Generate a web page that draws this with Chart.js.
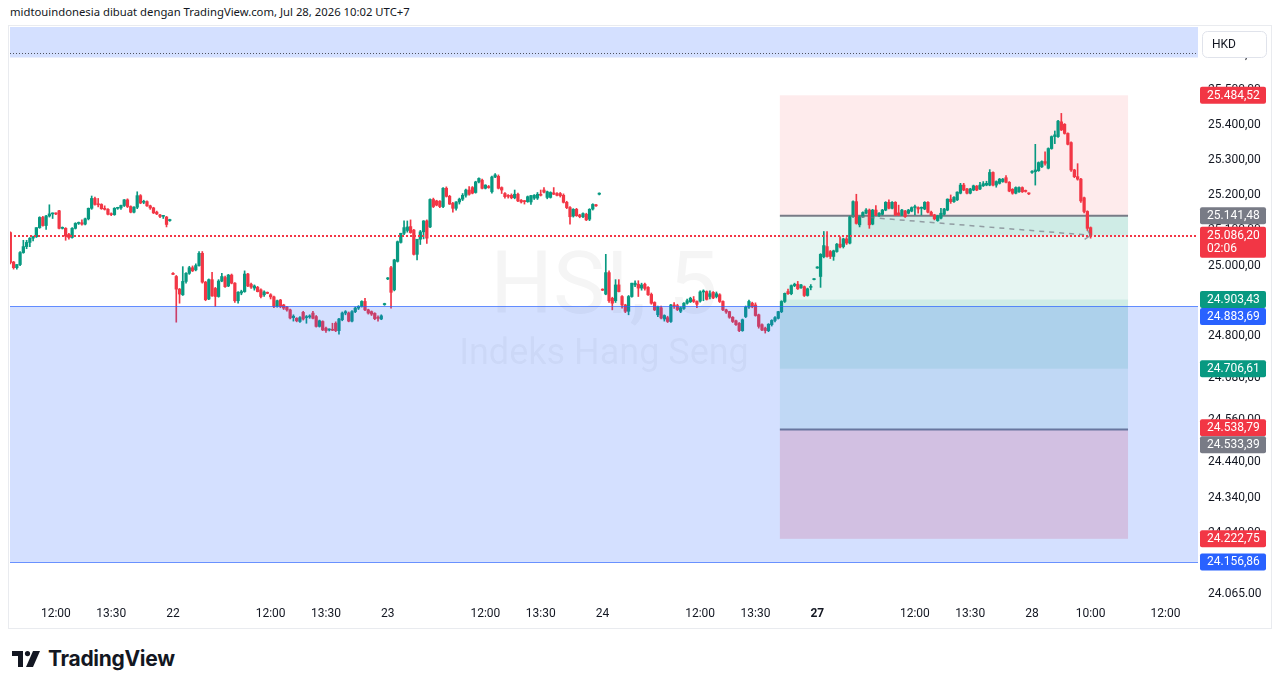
<!DOCTYPE html>
<html>
<head>
<meta charset="utf-8">
<script src="https://cdn.jsdelivr.net/npm/chart.js@4.4.1/dist/chart.umd.min.js"></script>
<style>
  body { margin: 0; background: #fff; width: 1281px; height: 688px; overflow: hidden; }
  #head { position: absolute; left: 10px; top: 4px; font: 11.3px "Noto Sans", sans-serif; color: #131722; white-space: nowrap; }
  #frame { position: absolute; left: 8px; top: 25px; width: 1262px; height: 602px; border: 1px solid #E9EBEF; }
  #wrap { position: absolute; left: 10px; top: 27px; width: 1260px; height: 600px; }
  #logo { position: absolute; left: 12px; top: 646px; display: flex; align-items: center; gap: 7px;
          font: 700 21px Inter, sans-serif; color: #131722; letter-spacing: -0.3px; }
</style>
</head>
<body>
<div id="head">midtouindonesia dibuat dengan TradingView.com, Jul 28, 2026 10:02 UTC+7</div>
<div id="frame"></div>
<div id="wrap"><canvas id="chart" width="1260" height="600"></canvas></div>
<div id="logo">
  <svg width="29" height="16" viewBox="0 0 29 16"><path d="M0 0h11v16h-5v-11h-6z" fill="#131722"/><circle cx="15.5" cy="2.6" r="2.6" fill="#131722"/><path d="M21 0h7l-7 16h-7z" fill="#131722"/></svg>
  <span>TradingView</span>
</div>
<script>
// 5-minute candles [open, high, low, close], one array per session
const firstIndex = 16;
const jul21 = [
  [25094,25096,25005,25009],[25010,25012,24990,24994],[24994,25003,24990,25003],[25003,25040,25000,25037],
  [25037,25072,25035,25054],[25054,25072,25048,25066],[25066,25080,25054,25078],[25078,25084,25070,25082],
  [25082,25108,25080,25108],[25108,25139,25106,25137],[25137,25140,25112,25114],[25114,25143,25103,25141],
  [25141,25173,25138,25147],[25147,25150,25134,25148],[25148,25150,25145,25147],[25156,25157,25104,25106],
  [25106,25110,25104,25108],[25106,25108,25072,25084],[25089,25092,25075,25080],[25080,25108,25078,25106],
  [25106,25122,25104,25120],[25120,25124,25117,25122],[25122,25130,25115,25118],[25118,25135,25116,25133],
  [25133,25164,25130,25163],[25163,25198,25160,25191],[25191,25195,25172,25174],[25175,25191,25167,25173],
  [25174,25176,25160,25162],[25162,25170,25158,25160],[25160,25162,25144,25146],[25146,25150,25142,25145],
  [25145,25165,25143,25163],[25163,25166,25160,25164],[25164,25172,25160,25171],[25171,25188,25168,25187],
  [25187,25190,25165,25168],[25168,25170,25150,25152],[25152,25168,25150,25166],[25166,25210,25162,25199],
  [25199,25202,25176,25178],[25180,25186,25176,25182],[25182,25184,25168,25170],[25170,25172,25160,25164],
  [25164,25166,25148,25150],[25152,25155,25145,25147],[25144,25146,25136,25140],[25140,25143,25134,25142],
  [25138,25140,25110,25117],[25128,25132,25126,25131]
];
const jul22 = [
  [24978,24980,24974,24975],[24969,24972,24839,24933],[24933,24935,24893,24919],[24917,24997,24915,24955],
  [24955,24980,24950,24978],[24978,24998,24975,24994],[24994,24999,24983,24985],[24988,25005,24985,25000],
  [25000,25040,24998,25035],[25035,25040,24950,24953],[24953,24955,24900,24903],[24905,24962,24903,24960],
  [24960,24981,24912,24914],[24935,24938,24884,24912],[24912,24960,24910,24956],[24956,24978,24954,24969],
  [24966,24970,24938,24940],[24942,24975,24940,24973],[24973,24976,24948,24950],[24950,24952,24895,24900],
  [24900,24926,24893,24924],[24922,24930,24917,24926],[24926,24985,24924,24976],[24976,24978,24940,24942],
  [24947,24950,24935,24939],[24936,24945,24930,24942],[24938,24941,24925,24926],[24931,24934,24908,24912],
  [24917,24928,24912,24925],[24923,24925,24920,24921],[24917,24920,24905,24911],[24911,24913,24880,24884],
  [24884,24902,24882,24900],[24902,24904,24880,24884],[24888,24890,24875,24879],[24882,24884,24870,24874],
  [24874,24876,24848,24851],[24852,24860,24842,24856],[24850,24852,24840,24843],[24841,24855,24838,24852],
  [24867,24870,24845,24848],[24852,24858,24836,24854],[24854,24860,24850,24856],[24865,24870,24848,24850],
  [24855,24858,24825,24827],[24827,24845,24825,24843],[24841,24843,24815,24817],[24822,24825,24810,24815],
  [24817,24820,24814,24818],[24818,24836,24815,24816],[24836,24840,24812,24815],[24815,24850,24805,24848],
  [24846,24868,24843,24865],[24865,24872,24860,24869],[24865,24868,24840,24842],[24842,24872,24840,24869],
  [24869,24882,24866,24879],[24879,24886,24875,24884],[24884,24900,24882,24898],[24898,24907,24872,24874],
  [24874,24876,24862,24865],[24869,24871,24858,24862],[24864,24866,24846,24849],[24852,24857,24842,24850],
  [24848,24860,24846,24857],[24889,24893,24887,24892]
];
const jul23 = [
  [24962,24966,24960,24965],[24994,24998,24879,24924],[24931,25018,24928,25016],[25012,25070,25010,25068],
  [25066,25092,25064,25092],[25092,25127,25088,25108],[25100,25127,25095,25110],[25111,25130,25092,25094],
  [25101,25103,25030,25032],[25032,25075,25016,25075],[25075,25100,25060,25096],[25096,25128,25076,25127],
  [25127,25130,25063,25078],[25110,25190,25108,25188],[25188,25192,25165,25168],[25184,25186,25170,25172],
  [25183,25185,25165,25168],[25168,25222,25165,25220],[25220,25224,25195,25197],[25197,25200,25174,25175],
  [25177,25180,25152,25163],[25163,25182,25158,25181],[25181,25192,25175,25189],[25189,25205,25185,25200],
  [25200,25218,25195,25215],[25215,25225,25200,25203],[25222,25225,25204,25206],[25208,25240,25206,25238],
  [25238,25250,25235,25248],[25243,25246,25218,25220],[25220,25230,25218,25229],[25225,25228,25220,25222],
  [25210,25255,25206,25252],[25252,25262,25250,25258],[25254,25258,25218,25220],[25222,25224,25205,25215],
  [25205,25208,25192,25196],[25200,25202,25192,25197],[25200,25204,25190,25193],[25193,25215,25190,25203],
  [25203,25206,25182,25184],[25186,25188,25178,25181],[25183,25185,25175,25182],[25182,25198,25180,25196],
  [25181,25200,25174,25199],[25192,25202,25188,25200],[25192,25208,25188,25203],[25203,25215,25198,25200],
  [25215,25222,25207,25209],[25194,25212,25190,25210],[25194,25210,25192,25208],[25207,25222,25202,25203],
  [25205,25208,25198,25200],[25205,25208,25195,25199],[25200,25204,25178,25180],[25180,25183,25162,25165],
  [25165,25168,25118,25139],[25141,25162,25138,25160],[25160,25163,25140,25142],[25144,25146,25136,25139],
  [25139,25150,25136,25148],[25146,25149,25128,25130],[25132,25162,25128,25160],[25161,25176,25158,25174],
  [25172,25174,25168,25170],[25203,25207,25201,25206]
];
const jul24 = [
  [24932,24934,24929,24930],[24919,25032,24917,24980],[24980,24985,24895,24900],[24907,24910,24874,24893],
  [24900,24960,24895,24945],[24945,24960,24925,24926],[24912,24915,24879,24888],[24888,24890,24866,24870],
  [24870,24915,24860,24912],[24912,24950,24910,24950],[24945,24957,24940,24950],[24947,24957,24912,24936],
  [24936,24950,24930,24945],[24947,24950,24930,24935],[24938,24940,24915,24917],[24918,24922,24890,24893],
  [24895,24897,24872,24874],[24860,24885,24855,24883],[24880,24885,24848,24851],[24848,24860,24842,24858],
  [24852,24856,24838,24841],[24841,24890,24838,24888],[24888,24895,24878,24885],[24886,24890,24872,24875],
  [24870,24882,24866,24880],[24878,24895,24875,24893],[24893,24905,24890,24900],[24897,24910,24895,24907],
  [24903,24912,24895,24898],[24898,24900,24880,24890],[24899,24928,24896,24925],[24925,24931,24900,24927],
  [24926,24928,24902,24904],[24912,24928,24905,24920],[24924,24926,24906,24908],[24912,24925,24908,24920],
  [24917,24920,24895,24898],[24898,24900,24872,24874],[24874,24876,24864,24868],[24869,24870,24850,24853],
  [24853,24855,24838,24841],[24843,24845,24830,24832],[24836,24838,24812,24815],[24815,24848,24813,24846],
  [24855,24885,24852,24882],[24882,24902,24878,24898],[24893,24896,24880,24883],[24888,24894,24856,24858],
  [24860,24862,24822,24827],[24832,24834,24815,24817],[24822,24825,24808,24815],[24815,24835,24812,24833],
  [24832,24846,24828,24844],[24844,24855,24840,24852],[24850,24870,24848,24869],[24869,24900,24866,24898],
  [24898,24922,24895,24921],[24926,24933,24918,24920],[24920,24945,24917,24943],[24943,24950,24940,24947],
  [24947,24955,24932,24934],[24937,24947,24935,24945],[24940,24942,24912,24915],[24915,24936,24913,24934],
  [24938,24946,24931,24940],[24960,24963,24959,24962]
];
const jul27 = [
  [24993,24997,24992,24996],[24969,25034,24938,25032],[25025,25097,25022,25057],[25054,25097,25024,25026],
  [25040,25043,25020,25026],[25026,25044,25015,25042],[25040,25063,25038,25061],[25061,25082,25050,25053],
  [25054,25078,25050,25076],[25076,25080,25060,25064],[25064,25141,25062,25139],[25139,25184,25137,25182],
  [25182,25203,25118,25120],[25116,25141,25110,25139],[25139,25153,25137,25151],[25149,25162,25147,25158],
  [25158,25161,25106,25116],[25118,25160,25116,25158],[25158,25171,25142,25144],[25144,25151,25140,25149],
  [25146,25160,25144,25158],[25158,25182,25156,25180],[25180,25187,25161,25163],[25163,25182,25161,25180],
  [25180,25182,25142,25144],[25150,25172,25142,25144],[25144,25160,25142,25158],[25155,25157,25137,25139],
  [25149,25160,25147,25158],[25155,25167,25153,25165],[25165,25172,25144,25168],[25165,25167,25149,25161],
  [25163,25167,25144,25165],[25161,25182,25159,25180],[25180,25182,25150,25152],
  [25152,25155,25142,25144],[25144,25146,25130,25133],[25128,25143,25126,25141],[25135,25163,25133,25149],
  [25146,25163,25144,25161],[25158,25190,25156,25189],[25189,25201,25177,25182],[25182,25196,25180,25194],
  [25187,25210,25185,25209],[25206,25234,25204,25229],[25229,25234,25213,25215],[25218,25220,25204,25206],
  [25206,25220,25204,25218],[25215,25229,25213,25227],[25226,25228,25213,25215],[25218,25237,25216,25229],
  [25227,25239,25225,25233],[25229,25240,25227,25234],[25229,25273,25227,25265],[25265,25267,25227,25229],
  [25229,25241,25223,25239],[25234,25248,25232,25246],[25239,25248,25237,25246],[25250,25256,25235,25237],
  [25237,25239,25210,25212],[25217,25219,25203,25206],[25206,25224,25204,25222],[25210,25224,25208,25222],
  [25222,25224,25208,25210],[25213,25215,25209,25211],[25205,25207,25202,25204]
];
const jul28 = [
  [25265,25270,25262,25268],[25267,25345,25229,25272],[25270,25295,25268,25293],[25281,25298,25279,25296],
  [25296,25324,25286,25291],[25277,25335,25275,25333],[25333,25369,25331,25367],[25367,25383,25347,25372],
  [25367,25413,25365,25411],[25409,25433,25384,25386],[25402,25404,25374,25376],[25376,25378,25343,25345],
  [25350,25352,25268,25272],[25272,25274,25250,25253],[25253,25290,25243,25246],[25246,25248,25180,25184],
  [25193,25195,25150,25154],[25154,25156,25100,25106],[25108,25110,25078,25086.2]
];

// time axis: candle index -> label
const timeTicks = [30, 47, 66, 96, 113, 132, 162, 179, 198, 228, 245, 264, 294, 311, 330, 348, 371];
const timeLabels = ['12:00','13:30','22','12:00','13:30','23','12:00','13:30','24','12:00','13:30','27','12:00','13:30','28','10:00','12:00'];
const boldTick = 264;

// price axis
const priceTicks = [25600, 25500, 25400, 25300, 25200, 25100, 25000, 24800, 24680, 24560, 24440, 24340, 24240, 24065];
const priceTickLabels = ['25.600,00','25.500,00','25.400,00','25.300,00','25.200,00','25.100,00','25.000,00',
  '24.800,00','24.680,00','24.560,00','24.440,00','24.340,00','24.240,00','24.065.00'];

// drawings
const lastClose = 25086.20;
const countdown = '02:06';
const zoneTop = [25592, 26000];        // rectangle above the chart
const topDotted = 25604;
const zoneBand = [24883.69, 24156.86]; // blue rectangle
const posA = { start: 252.5, end: 359.5, fill: 274, entry: 25141.48, stop: 25484.52, target: 24706.61 };
const posB = { start: 252.5, end: 359.5, entry: 24533.39, target: 24903.43, stop: 24222.75 };
const priceMarks = [25484.52, 25141.48, 25086.20, 24903.43, 24883.69, 24706.61, 24538.79, 24533.39, 24222.75, 24156.86];
const markColors = ['#F23645','#787B86','#F23645','#089981','#2962FF','#089981','#F23645','#787B86','#F23645','#2962FF'];
const watermark = ['HSI, 5', 'Indeks Hang Seng'];

const UP = '#089981', DOWN = '#F23645';
const candles = [].concat(jul21, jul22, jul23, jul24, jul27, jul28);
const colors = candles.map(c => c[3] >= c[0] ? UP : DOWN);
const bodies = candles.map((c, k) => ({ x: firstIndex + k, y: [Math.min(c[0], c[3]), Math.max(c[0], c[3])] }));
const wicks = candles.map((c, k) => ({ x: firstIndex + k, y: [c[2], c[1]] }));

function fmt(v) {
  const [a, b] = v.toFixed(2).split('.');
  return a.slice(0, -3) + '.' + a.slice(-3) + ',' + b;
}

function hline(ctx, x0, x1, y, color, dash) {
  ctx.save();
  ctx.strokeStyle = color;
  ctx.lineWidth = 1;
  ctx.setLineDash(dash || []);
  const yy = Math.round(y) + 0.5;
  ctx.beginPath(); ctx.moveTo(x0, yy); ctx.lineTo(x1, yy); ctx.stroke();
  ctx.restore();
}

// dotted line made of small squares
function dots(ctx, x0, x1, y, color, step) {
  ctx.save();
  ctx.fillStyle = color;
  const yy = Math.round(y);
  for (let x = Math.round(x0); x < x1; x += step) ctx.fillRect(x, yy, 2, 2);
  ctx.restore();
}

const overlay = {
  id: 'overlay',
  beforeDatasetsDraw(chart) {
    const { ctx, chartArea: a } = chart;
    const X = v => chart.scales.x.getPixelForValue(v);
    const Y = v => chart.scales.y.getPixelForValue(v);
    ctx.save();
    ctx.beginPath(); ctx.rect(a.left, a.top, a.width, a.height); ctx.clip();

    ctx.fillStyle = 'rgba(19,23,34,0.045)';
    ctx.textAlign = 'center';
    ctx.textBaseline = 'middle';
    ctx.font = '88px Roboto';
    ctx.fillText(watermark[0], 594, 264);
    ctx.font = '36px Roboto';
    ctx.fillText(watermark[1], 594, 328);

    const box = (i0, i1, p0, p1, c) => {
      const y0 = Y(p0), y1 = Y(p1);
      ctx.fillStyle = c;
      ctx.fillRect(X(i0), Math.min(y0, y1), X(i1) - X(i0), Math.abs(y1 - y0));
    };
    box(posA.start, posA.end, posA.stop, posA.entry, 'rgba(242,54,69,0.1)');
    box(posA.start, posA.end, posA.entry, posA.target, 'rgba(8,153,129,0.1)');
    box(posA.fill, posA.end, posA.entry, lastClose, 'rgba(8,153,129,0.1)');
    box(posB.start, posB.end, posB.target, posB.entry, 'rgba(8,153,129,0.1)');
    box(posB.start, posB.end, posB.entry, posB.stop, 'rgba(242,54,69,0.2)');

    ctx.strokeStyle = '#787B86';
    ctx.lineWidth = 2;
    [posA.entry, posB.entry].forEach(p => {
      ctx.beginPath(); ctx.moveTo(X(posA.start), Y(p)); ctx.lineTo(X(posA.end), Y(p)); ctx.stroke();
    });
    ctx.restore();
  },
  afterDatasetsDraw(chart) {
    const { ctx, chartArea: a } = chart;
    const X = v => chart.scales.x.getPixelForValue(v);
    const Y = v => chart.scales.y.getPixelForValue(v);
    ctx.save();
    ctx.beginPath(); ctx.rect(a.left, a.top, a.width, a.height); ctx.clip();

    // dashed path of the open trade
    ctx.strokeStyle = 'rgba(120,123,134,0.7)';
    ctx.lineWidth = 1.5;
    ctx.setLineDash([5, 5]);
    const x0 = X(posA.fill), y0 = Y(posA.entry), x1 = X(candles.length - 1 + firstIndex), y1 = Y(lastClose);
    ctx.beginPath(); ctx.moveTo(x0, y0); ctx.lineTo(x1, y1); ctx.stroke();
    ctx.setLineDash([]);
    ctx.beginPath(); ctx.moveTo(x1 - 6, y1 + 4); ctx.lineTo(x1, y1); ctx.lineTo(x1 - 3, y1 - 5); ctx.stroke();

    // rectangles drawn over the candles
    ctx.fillStyle = 'rgba(41,98,255,0.2)';
    ctx.fillRect(a.left, Y(zoneTop[1]), a.width, Y(zoneTop[0]) - Y(zoneTop[1]));
    ctx.fillRect(a.left, Y(zoneBand[0]), a.width, Y(zoneBand[1]) - Y(zoneBand[0]));
    zoneBand.forEach(p => hline(ctx, a.left, a.right, Y(p), 'rgba(41,98,255,0.7)'));

    hline(ctx, a.left, a.right, Y(topDotted), '#50535E', [1, 2]);
    dots(ctx, a.left, a.right, Y(lastClose) - 0.5, '#F23645', 4);
    ctx.restore();
  },
  afterDraw(chart) {
    const { ctx, chartArea: a } = chart;
    const Y = v => chart.scales.y.getPixelForValue(v);
    ctx.save();
    // currency button
    ctx.fillStyle = '#fff';
    ctx.strokeStyle = '#E0E3EB';
    ctx.beginPath(); ctx.roundRect(a.right + 4.5, 4.5, 64, 26, 5); ctx.fill(); ctx.stroke();
    ctx.fillStyle = '#131722';
    ctx.font = '12px Roboto';
    ctx.textAlign = 'left';
    ctx.textBaseline = 'middle';
    ctx.fillText('HKD', a.right + 14, 17.5);

    // price labels
    const items = priceMarks.map((v, k) => ({ v, color: markColors[k] })).sort((p, q) => q.v - p.v);
    let prev = -Infinity;
    items.forEach(it => {
      const h = 17, full = it.v === lastClose ? 31 : h;
      let top = Y(it.v) - h / 2;
      if (top < prev) top = prev;
      ctx.fillStyle = it.color;
      ctx.beginPath(); ctx.roundRect(a.right + 2, top, 66, full, 2); ctx.fill();
      ctx.fillStyle = '#fff';
      ctx.fillText(fmt(it.v), a.right + 9, top + h / 2 + 0.5);
      if (it.v === lastClose) ctx.fillText(countdown, a.right + 9, top + h / 2 + 14);
      prev = top + full;
    });
    ctx.restore();
  }
};

new Chart(document.getElementById('chart'), {
  type: 'bar',
  data: {
    datasets: [
      { data: bodies, backgroundColor: colors, barThickness: 2.6, minBarLength: 1, grouped: false },
      { data: wicks, backgroundColor: colors, barThickness: 1, minBarLength: 1, grouped: false }
    ]
  },
  options: {
    responsive: false,
    animation: false,
    devicePixelRatio: 1,
    layout: { padding: 0 },
    plugins: { legend: { display: false }, tooltip: { enabled: false } },
    scales: {
      x: {
        type: 'linear', min: 15.9, max: 381.0, offset: false,
        grid: { display: false, drawTicks: false }, border: { display: false },
        afterBuildTicks: s => { s.ticks = timeTicks.map(v => ({ value: v })); },
        afterFit: s => { s.height = 27; s.paddingLeft = 0; s.paddingRight = 0; },
        ticks: {
          autoSkip: false, maxRotation: 0, padding: 7, color: '#131722',
          font: c => ({ family: 'Roboto', size: 12, weight: c.tick && c.tick.value === boldTick ? 'bold' : 'normal' }),
          callback: v => timeLabels[timeTicks.indexOf(v)]
        }
      },
      y: {
        type: 'linear', position: 'right', min: 24048.6, max: 25678.8,
        grid: { display: false, drawTicks: false }, border: { display: false },
        afterBuildTicks: s => { s.ticks = priceTicks.map(v => ({ value: v })); },
        afterFit: s => { s.width = 72; s.paddingTop = 0; s.paddingBottom = 0; },
        ticks: {
          autoSkip: false, padding: 10, color: '#131722', font: { family: 'Roboto', size: 12 },
          callback: v => priceTickLabels[priceTicks.indexOf(v)]
        }
      }
    }
  },
  plugins: [overlay]
});
</script>
</body>
</html>
